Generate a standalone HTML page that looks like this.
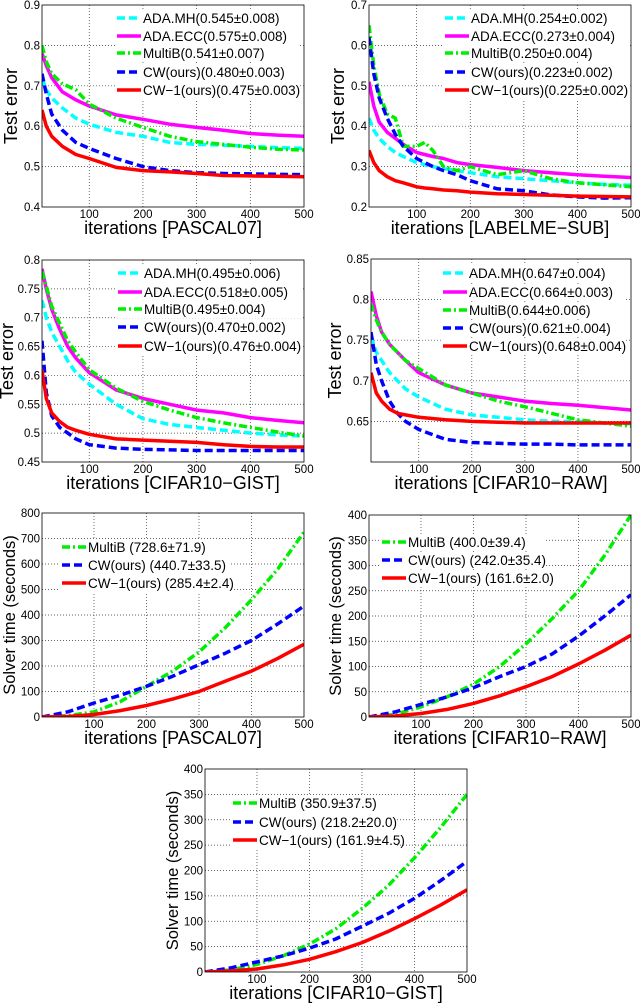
<!DOCTYPE html>
<html><head><meta charset="utf-8"><style>
html,body{margin:0;padding:0;background:#fff;}
svg{display:block;font-family:"Liberation Sans",sans-serif;}
</style></head><body>
<svg id="fig" width="640" height="1004" viewBox="0 0 640 1004" xmlns="http://www.w3.org/2000/svg"></svg>
<script>
// ---- data ----
const xTicks=[100,200,300,400,500];
const p1x=[12,20,30,50,75,100,150,200,250,300,350,400,450,500];
const p1mh=[0.72,0.69,0.67,0.645,0.62,0.605,0.585,0.575,0.56,0.555,0.553,0.55,0.547,0.545];
const p1ecc=[0.78,0.75,0.72,0.685,0.665,0.65,0.628,0.617,0.605,0.597,0.59,0.582,0.578,0.575];
const p1mb=[0.80,0.76,0.73,0.705,0.69,0.655,0.62,0.597,0.575,0.562,0.555,0.548,0.543,0.541];
const p1cw=[0.73,0.68,0.63,0.59,0.56,0.545,0.52,0.50,0.49,0.485,0.483,0.482,0.481,0.480];
const p1cw1=[0.64,0.60,0.575,0.55,0.53,0.52,0.498,0.49,0.487,0.483,0.478,0.477,0.476,0.475];
const p2x=[11,20,30,45,60,75,100,115,130,150,175,200,250,300,350,400,450,500];
const p2mh=[0.42,0.39,0.37,0.35,0.335,0.325,0.31,0.305,0.30,0.295,0.29,0.285,0.275,0.27,0.265,0.26,0.256,0.254];
const p2ecc=[0.51,0.45,0.41,0.385,0.37,0.355,0.335,0.33,0.325,0.32,0.31,0.305,0.298,0.29,0.285,0.28,0.276,0.273];
const p2mb=[0.65,0.55,0.48,0.43,0.42,0.35,0.35,0.36,0.34,0.30,0.29,0.30,0.28,0.29,0.27,0.26,0.255,0.25];
const p2cw=[0.62,0.53,0.47,0.42,0.38,0.35,0.32,0.31,0.30,0.29,0.28,0.265,0.245,0.24,0.23,0.225,0.222,0.223];
const p2cw1=[0.34,0.31,0.29,0.275,0.265,0.26,0.25,0.247,0.245,0.242,0.24,0.237,0.233,0.231,0.229,0.227,0.226,0.225];
const p3x=[12,20,30,45,60,75,100,150,200,250,300,350,400,450,500];
const p3mh=[0.73,0.70,0.675,0.65,0.625,0.605,0.585,0.55,0.525,0.515,0.51,0.505,0.50,0.497,0.495];
const p3ecc=[0.785,0.75,0.715,0.68,0.65,0.63,0.605,0.575,0.56,0.55,0.54,0.535,0.527,0.522,0.518];
const p3mb=[0.78,0.755,0.72,0.69,0.66,0.64,0.61,0.578,0.555,0.54,0.527,0.518,0.51,0.502,0.495];
const p3cw=[0.66,0.57,0.53,0.51,0.5,0.49,0.48,0.474,0.472,0.471,0.47,0.47,0.47,0.47,0.47];
const p3cw1=[0.61,0.56,0.535,0.52,0.51,0.505,0.498,0.49,0.488,0.486,0.484,0.48,0.477,0.476,0.476];
const p4x=[10,20,30,45,60,75,100,150,200,250,300,350,400,450,500];
const p4mh=[0.755,0.735,0.725,0.71,0.70,0.69,0.68,0.665,0.658,0.655,0.652,0.65,0.65,0.648,0.647];
const p4ecc=[0.81,0.78,0.76,0.745,0.735,0.725,0.71,0.695,0.685,0.68,0.675,0.672,0.67,0.667,0.664];
const p4mb=[0.795,0.775,0.76,0.745,0.735,0.725,0.715,0.695,0.685,0.675,0.668,0.66,0.652,0.648,0.644];
const p4cw=[0.76,0.72,0.70,0.675,0.66,0.65,0.64,0.628,0.624,0.623,0.622,0.622,0.621,0.621,0.621];
const p4cw1=[0.71,0.685,0.675,0.665,0.66,0.658,0.655,0.652,0.65,0.649,0.648,0.648,0.648,0.648,0.648];
const tx=[1,50,100,150,200,250,300,350,400,450,500];
const p5mb=[0,5,20,60,120,180,255,350,460,580,725];
const p5cw=[0,20,55,85,120,160,205,250,300,365,435];
const p5cw1=[0,2,10,25,45,70,100,140,180,230,285];
const p6mb=[0,5,20,40,65,100,145,195,250,320,400];
const p6cw=[0,10,25,40,58,80,100,125,160,200,242];
const p6cw1=[0,2,7,15,27,42,60,80,105,132,162];
const p7mb=[0,4,15,32,55,85,125,170,225,285,350];
const p7cw=[0,8,20,32,47,65,90,115,145,180,218];
const p7cw1=[0,2,6,14,25,40,58,80,105,132,162];
const p1yt=["0.4","0.5","0.6","0.7","0.8","0.9"];
const p2yt=["0.2","0.3","0.4","0.5","0.6","0.7"];
const p3yt=["0.45","0.5","0.55","0.6","0.65","0.7","0.75","0.8"];
const p4yt=["0.65","0.7","0.75","0.8","0.85"];
const p5yt=["0","100","200","300","400","500","600","700","800"];
const p6yt=["0","50","100","150","200","250","300","350","400"];

const ST={
 mh:{c:"#00ffff",d:"8,4"}, ecc:{c:"#ff00ff",d:""}, mb:{c:"#00ee00",d:"8,3,2,3"},
 cw:{c:"#0000ff",d:"8,4"}, cw1:{c:"#ff0000",d:""}
};
const NS="http://www.w3.org/2000/svg";
const svg=document.getElementById('fig');
function mk(tag,attrs,parent){const e=document.createElementNS(NS,tag);for(const k in attrs)e.setAttribute(k,attrs[k]);(parent||svg).appendChild(e);return e;}

function panel(o){
 const g=mk('g',{});
 
 
 const X=v=>o.L+(v-o.xmin)/(500-o.xmin)*(o.R-o.L);
 const Y=v=>o.B-(v-o.ymin)/(o.ymax-o.ymin)*(o.B-o.T);
 mk('rect',{x:o.L,y:o.T,width:o.R-o.L,height:o.B-o.T,fill:'#fff'},g);
 xTicks.forEach(t=>{const x=X(t);
  if(t<500) mk('line',{x1:x,x2:x,y1:o.T,y2:o.B,stroke:'#333','stroke-width':0.7,'stroke-dasharray':'1,2'},g);
  const tl=mk('text',{x:x,y:o.B+11,'font-size':11.5,'text-anchor':'middle',fill:'#000'},g);tl.textContent=t;
  
  
 });
 o.yt.forEach(s=>{const v=parseFloat(s),y=Y(v);
  if(v>o.ymin&&v<o.ymax) mk('line',{x1:o.L,x2:o.R,y1:y,y2:y,stroke:'#333','stroke-width':0.7,'stroke-dasharray':'1,2'},g);
  const tl=mk('text',{x:o.L-2,y:y+4,'font-size':11.5,'text-anchor':'end',fill:'#000'},g);tl.textContent=s;
  
  
 });
 const clip='c'+o.name;
 const cp=mk('clipPath',{id:clip},g);mk('rect',{x:o.L,y:o.T,width:o.R-o.L,height:o.B-o.T},cp);
 o.series.forEach(s=>{
  const st=ST[s.k];
  const d=s.v.map((v,i)=>(i?'L':'M')+X(s.x[i]).toFixed(1)+','+Y(v).toFixed(1)).join('');
  const p=mk('path',{d:d,fill:'none',stroke:st.c,'stroke-width':3.5,'stroke-dasharray':st.d,'stroke-linejoin':'round','clip-path':'url(#'+clip+')'},g);
  
  
 });
 const lg=mk('g',{},g);
 
 
 o.leg.forEach((e,i)=>{
  const y=o.ly[i];const st=ST[e[0]];
  mk('rect',{x:o.lx-2,y:y-8,width:o.lw,height:17,fill:'#fff'},lg);
  mk('line',{x1:o.lx,x2:o.lx+24,y1:y,y2:y,stroke:st.c,'stroke-width':3.5,'stroke-dasharray':st.d},lg);
  const t=mk('text',{x:o.lx+26,y:y+5,'font-size':13.5,fill:'#000'},lg);t.textContent=e[1];
  
  
 });
 mk('rect',{x:o.L,y:o.T,width:o.R-o.L,height:o.B-o.T,fill:'none',stroke:'#000','stroke-width':0.8},g);
 const xl=mk('text',{x:(o.L+o.R)/2,y:o.B+27,'font-size':18,'text-anchor':'middle',fill:'#000'},g);xl.textContent=o.xlab;
 
 
 const yc=(o.T+o.B)/2;
 const yl=mk('text',{x:o.ytx,y:yc,'font-size':o.yfs,'text-anchor':'middle',fill:'#000',transform:'rotate(-90 '+o.ytx+' '+yc+')'},g);yl.textContent=o.ylab;
 
 
}
function five(x,a,b,c,d,e){return[{k:'mh',x:x,v:a},{k:'ecc',x:x,v:b},{k:'mb',x:x,v:c},{k:'cw',x:x,v:d},{k:'cw1',x:x,v:e}];}
function three(a,b,c){return[{k:'mb',x:tx,v:a},{k:'cw',x:tx,v:b},{k:'cw1',x:tx,v:c}];}

panel({name:'panel-pascal07-error',L:42,R:304,T:5,B:207,xmin:12,ymin:0.4,ymax:0.9,yt:p1yt,
 series:five(p1x,p1mh,p1ecc,p1mb,p1cw,p1cw1),lx:117,lw:185,ly:[18,36,53,72,90],
 leg:[['mh','ADA.MH(0.545±0.008)'],['ecc','ADA.ECC(0.575±0.008)'],['mb','MultiB(0.541±0.007)'],['cw','CW(ours)(0.480±0.003)'],['cw1','CW−1(ours)(0.475±0.003)']],
 xlab:'iterations [PASCAL07]',ylab:'Test error',ytx:17,yfs:18});
panel({name:'panel-labelme-error',L:369,R:631,T:5,B:207,xmin:11,ymin:0.2,ymax:0.7,yt:p2yt,
 series:five(p2x,p2mh,p2ecc,p2mb,p2cw,p2cw1),lx:445,lw:185,ly:[18,36,53,72,90],
 leg:[['mh','ADA.MH(0.254±0.002)'],['ecc','ADA.ECC(0.273±0.004)'],['mb','MultiB(0.250±0.004)'],['cw','CW(ours)(0.223±0.002)'],['cw1','CW−1(ours)(0.225±0.002)']],
 xlab:'iterations [LABELME−SUB]',ylab:'Test error',ytx:344,yfs:18});
panel({name:'panel-cifar-gist-error',L:42,R:304,T:260,B:462,xmin:12,ymin:0.45,ymax:0.8,yt:p3yt,
 series:five(p3x,p3mh,p3ecc,p3mb,p3cw,p3cw1),lx:118,lw:185,ly:[273,292,309,327,346],
 leg:[['mh','ADA.MH(0.495±0.006)'],['ecc','ADA.ECC(0.518±0.005)'],['mb','MultiB(0.495±0.004)'],['cw','CW(ours)(0.470±0.002)'],['cw1','CW−1(ours)(0.476±0.004)']],
 xlab:'iterations [CIFAR10−GIST]',ylab:'Test error',ytx:13,yfs:18});
panel({name:'panel-cifar-raw-error',L:371,R:631,T:259,B:462,xmin:10,ymin:0.6,ymax:0.85,yt:p4yt,
 series:five(p4x,p4mh,p4ecc,p4mb,p4cw,p4cw1),lx:443,lw:185,ly:[273,292,310,328,346],
 leg:[['mh','ADA.MH(0.647±0.004)'],['ecc','ADA.ECC(0.664±0.003)'],['mb','MultiB(0.644±0.006)'],['cw','CW(ours)(0.621±0.004)'],['cw1','CW−1(ours)(0.648±0.004)']],
 xlab:'iterations [CIFAR10−RAW]',ylab:'Test error',ytx:341,yfs:18});
panel({name:'panel-pascal07-time',L:42,R:304,T:513,B:717,xmin:1,ymin:0,ymax:800,yt:p5yt,
 series:three(p5mb,p5cw,p5cw1),lx:62,lw:170,ly:[547,565,583],
 leg:[['mb','MultiB (728.6±71.9)'],['cw','CW(ours) (440.7±33.5)'],['cw1','CW−1(ours) (285.4±2.4)']],
 xlab:'iterations [PASCAL07]',ylab:'Solver time (seconds)',ytx:15,yfs:16.5});
panel({name:'panel-cifar-raw-time',L:369,R:631,T:515,B:717,xmin:1,ymin:0,ymax:400,yt:p6yt,
 series:three(p6mb,p6cw,p6cw1),lx:382,lw:165,ly:[542,560,578],
 leg:[['mb','MultiB (400.0±39.4)'],['cw','CW(ours) (242.0±35.4)'],['cw1','CW−1(ours) (161.6±2.0)']],
 xlab:'iterations [CIFAR10−RAW]',ylab:'Solver time (seconds)',ytx:341,yfs:16.5});
panel({name:'panel-cifar-gist-time',L:205,R:467,T:769,B:972,xmin:1,ymin:0,ymax:400,yt:p6yt,
 series:three(p7mb,p7cw,p7cw1),lx:233,lw:165,ly:[803,822,840],
 leg:[['mb','MultiB (350.9±37.5)'],['cw','CW(ours) (218.2±20.0)'],['cw1','CW−1(ours) (161.9±4.5)']],
 xlab:'iterations [CIFAR10−GIST]',ylab:'Solver time (seconds)',ytx:178,yfs:16.5});
</script>
</body></html>
